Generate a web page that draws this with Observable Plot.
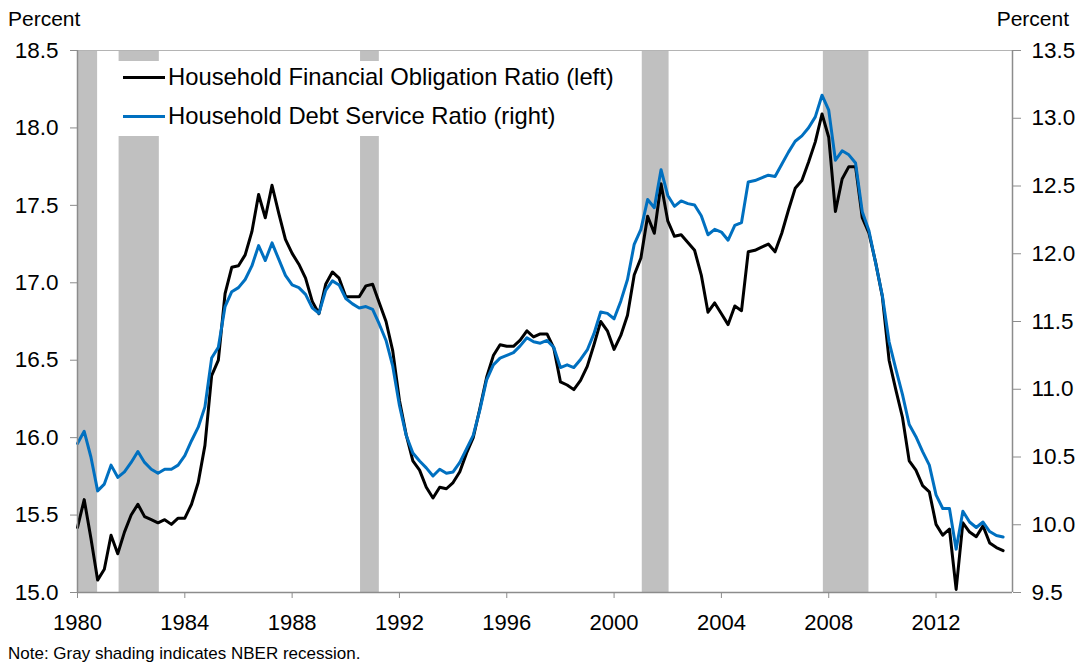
<!DOCTYPE html>
<html><head><meta charset="utf-8">
<script src="https://cdn.jsdelivr.net/npm/d3@7"></script>
<script src="https://cdn.jsdelivr.net/npm/@observablehq/plot@0.6"></script>
<style>
body{margin:0;background:#fff;font-family:"Liberation Sans",Arial,sans-serif;color:#000;}
#wrap{position:relative;width:1082px;height:667px;overflow:hidden;}
#chart{position:absolute;left:0;top:0;}
.unit{position:absolute;font-size:21px;line-height:1;}
#legend{position:absolute;left:112px;top:61px;width:510px;height:75px;background:#fff;}
#legend .sw{position:absolute;left:11px;width:42px;height:3px;}
#legend .lb{position:absolute;left:56px;font-size:23.8px;line-height:1;white-space:nowrap;}
#note{position:absolute;left:8px;top:645px;font-size:17px;line-height:1;white-space:nowrap;}
</style></head><body>
<div id="wrap">
<div id="chart"></div>
<div class="unit" style="left:8px;top:8px">Percent</div>
<div class="unit" style="right:13px;top:8px">Percent</div>
<div id="legend">
  <div class="sw" style="top:15px;background:#000"></div><div class="lb" style="top:4px">Household Financial Obligation Ratio (left)</div>
  <div class="sw" style="top:54px;background:#0070C0"></div><div class="lb" style="top:43px">Household Debt Service Ratio (right)</div>
</div>
<div id="note">Note: Gray shading indicates NBER recession.</div>
</div>
<script>
// Quarterly data, 1980Q1 through 2014Q3
const startYear = 1980;
const forValues = [
15.42,15.60,15.35,15.08,15.15,15.37,15.25,15.39,15.50,15.57,
15.49,15.47,15.45,15.47,15.44,15.48,15.48,15.57,15.71,15.95,
16.40,16.50,16.93,17.10,17.11,17.18,17.33,17.57,17.42,17.63,
17.45,17.28,17.19,17.12,17.03,16.88,16.80,16.99,17.07,17.03,
16.91,16.91,16.91,16.98,16.99,16.87,16.75,16.56,16.24,16.02,
15.85,15.79,15.68,15.61,15.68,15.67,15.71,15.78,15.90,16.00,
16.19,16.39,16.53,16.60,16.59,16.59,16.63,16.69,16.65,16.67,
16.67,16.58,16.36,16.34,16.31,16.37,16.46,16.60,16.75,16.69,
16.57,16.66,16.79,17.05,17.16,17.43,17.32,17.64,17.40,17.30,
17.31,17.26,17.21,17.05,16.81,16.87,16.80,16.73,16.85,16.82,
17.20,17.21,17.23,17.25,17.20,17.32,17.47,17.61,17.66,17.78,
17.91,18.09,17.94,17.46,17.67,17.75,17.75,17.42,17.32,17.13,
16.91,16.50,16.31,16.13,15.85,15.79,15.69,15.65,15.44,15.37,
15.41,15.02,15.45,15.39,15.36,15.43,15.32,15.29,15.27];
const dsrValues = [
10.60,10.69,10.50,10.25,10.30,10.44,10.35,10.39,10.46,10.54,
10.46,10.41,10.38,10.41,10.41,10.44,10.51,10.62,10.72,10.87,
11.23,11.31,11.61,11.72,11.75,11.81,11.91,12.06,11.95,12.08,
11.96,11.84,11.77,11.75,11.70,11.60,11.56,11.73,11.80,11.77,
11.67,11.63,11.60,11.61,11.59,11.48,11.36,11.17,10.88,10.66,
10.53,10.47,10.42,10.36,10.41,10.38,10.39,10.46,10.56,10.66,
10.85,11.07,11.18,11.23,11.25,11.27,11.32,11.38,11.35,11.34,
11.36,11.31,11.16,11.18,11.16,11.22,11.29,11.41,11.57,11.56,
11.52,11.65,11.81,12.07,12.18,12.40,12.34,12.62,12.43,12.35,
12.39,12.37,12.36,12.28,12.14,12.18,12.16,12.10,12.21,12.23,
12.53,12.54,12.56,12.58,12.57,12.66,12.75,12.83,12.87,12.93,
13.01,13.17,13.06,12.69,12.76,12.73,12.67,12.31,12.17,11.93,
11.69,11.35,11.15,10.96,10.74,10.65,10.54,10.44,10.22,10.12,
10.12,9.82,10.10,10.02,9.98,10.02,9.95,9.92,9.91];
const recessionStart = [1980.0, 1981.55, 1990.55, 2001.05, 2007.8];
const recessionEnd   = [1980.75, 1983.05, 1991.25, 2002.05, 2009.5];
const xTicks = [1980,1984,1988,1992,1996,2000,2004,2008,2012];
const leftTicks = [15.0,15.5,16.0,16.5,17.0,17.5,18.0,18.5];
const rightTicks = [9.5,10.0,10.5,11.0,11.5,12.0,12.5,13.0,13.5];
const xDomain = [1980, 2014.85];
const leftDomain = [15.0, 18.5];
const rightDomain = [9.5, 13.5];

// map right-axis values onto the left scale
const k = (leftDomain[1]-leftDomain[0])/(rightDomain[1]-rightDomain[0]);
const toLeft = v => leftDomain[0] + (v - rightDomain[0]) * k;
const fromLeft = v => rightDomain[0] + (v - leftDomain[0]) / k;

const forData = forValues.map((v,i)=>({t: startYear + i/4, v}));
const dsrData = dsrValues.map((v,i)=>({t: startYear + i/4, v: toLeft(v)}));
const recessions = recessionStart.map((s,i)=>({start:s, end:recessionEnd[i]}));

const axisGray = "#8c8c8c";
const chart = Plot.plot({
  width: 1082, height: 640,
  marginLeft: 77, marginRight: 70, marginTop: 50, marginBottom: 48,
  style: {fontFamily: '"Liberation Sans", Arial, sans-serif', background: "transparent", color: "#000"},
  x: {domain: xDomain},
  y: {domain: leftDomain},
  marks: [
    Plot.rect(recessions, {x1: "start", x2: "end", fill: "#c0c0c0"}),
    Plot.ruleY([leftDomain[1]], {stroke: "#b4b4b4", strokeWidth: 1}),
    Plot.line(forData, {x: "t", y: "v", stroke: "#000", strokeWidth: 3, strokeLinejoin: "round"}),
    Plot.line(dsrData, {x: "t", y: "v", stroke: "#0070C0", strokeWidth: 3, strokeLinejoin: "round"}),
    Plot.ruleY([leftDomain[0]], {stroke: axisGray, strokeWidth: 1.5}),
    Plot.ruleX([xDomain[0]], {stroke: axisGray, strokeWidth: 1.5}),
    Plot.ruleX([xDomain[1]], {stroke: axisGray, strokeWidth: 1.5}),
    Plot.axisX({ticks: xTicks, tickFormat: d => String(d), tickSize: 6, tickPadding: 16, fontSize: 22, stroke: axisGray, fill: "#000", label: null}),
    Plot.axisY({anchor: "left", ticks: leftTicks, tickFormat: d => d.toFixed(1), tickSize: 7, tickPadding: 12, fontSize: 22.5, stroke: axisGray, fill: "#000", label: null}),
    Plot.axisY({anchor: "right", ticks: rightTicks.map(toLeft), tickFormat: d => fromLeft(d).toFixed(1), tickSize: 8, tickPadding: 11, fontSize: 22.5, stroke: axisGray, fill: "#000", label: null})
  ]
});
document.getElementById("chart").appendChild(chart);
</script>
</body></html>
